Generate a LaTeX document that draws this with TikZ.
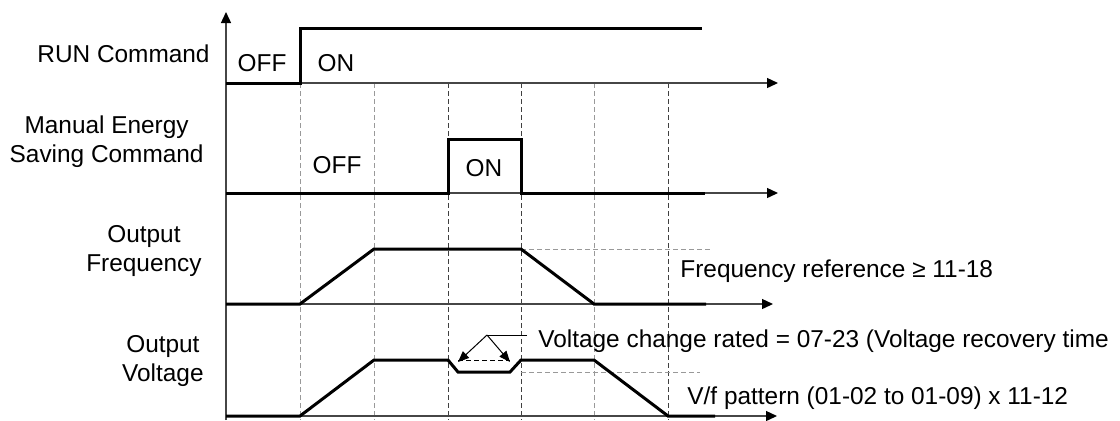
\documentclass[tikz,border=0pt]{standalone}
\usepackage{fontspec}
\setmainfont{Liberation Sans}
\usepackage{tikz}
\usetikzlibrary{arrows.meta,positioning}

\begin{document}
\begin{tikzpicture}[x=0.5pt, y=-0.5pt, every node/.style={font=\fontsize{12.2}{14.5}\selectfont}]
            \tikzstyle{signal}=[line width=1.5pt]
            \tikzstyle{axis}=[gray!55!black, line width=0.7pt, -{Triangle[color=black, length=5.5pt, width=5pt]}]
            \tikzstyle{grid}=[gray!80, line width=0.5pt, dash pattern=on 2.5pt off 1.5pt]
            \tikzstyle{darkgrid}=[black!75, line width=0.5pt, dash pattern=on 2.5pt off 1.5pt]
            \tikzstyle{callout}=[line width=0.5pt, -{Triangle[length=5.5pt, width=4.5pt]}]
            \tikzstyle{rowname}=[anchor=east, align=center, inner sep=0pt]
            \tikzstyle{level}=[inner sep=0pt]
            \useasboundingbox (0,0) rectangle (1120,420);
            \draw[grid] (300,83) -- (300,420);
            \draw[grid] (374,83) -- (374,420);
            \draw[darkgrid] (448,83) -- (448,420);
            \draw[darkgrid] (521,83) -- (521,420);
            \draw[grid] (594,83) -- (594,420);
            \draw[darkgrid] (668,83) -- (668,420);
            \draw[grid] (521,249) -- (713,249);
            \draw[grid] (521,372) -- (700,372);
            \draw[axis] (226,420) -- (226,12);
            \draw[axis] (226,83) -- (778,83);
            \draw[axis] (226,193) -- (778,193);
            \draw[axis] (226,304) -- (773,304);
            \draw[axis] (226,416) -- (777,416);
            \node[rowname] (run) at (210,54) {RUN Command};
            \node[rowname] (saving) at (204,142) {Manual Energy\\Saving Command};
            \node[rowname] (freq) at (202,251) {Output\\Frequency};
            \node[rowname] (volt) at (204,361) {Output\\Voltage};
            \node[level] (runoff) at (262,63) {OFF};
            \node[level] (runon) at (336,63) {ON};
            \node[level] (saveoff) at (337,165) {OFF};
            \node[level] (saveon) at (484,168) {ON};
            \draw[signal] (226,83) -- (300,83) -- (300,28) -- (702,28);
            \draw[signal] (226,193) -- (448,193) -- (448,139) -- (521,139) -- (521,193) -- (705,193);
            \draw[signal] (226,304) -- (300,304) -- (374,249) -- (521,249) -- (594,304) -- (706,304);
            \draw[signal] (226,416) -- (300,416) -- (374,360) -- (448,360) -- (458,372)
                -- (510,372) -- (521,360) -- (594,360) -- (668,416) -- (715,416);
            \draw[black, line width=0.5pt, dash pattern=on 2.5pt off 1.5pt] (458,360) -- (510,360);
            \node[level, anchor=base west] (freqref) at (680,277) {Frequency reference ≥ 11-18};
            \node[level, anchor=base west] (rated) at (538,347) {Voltage change rated = 07-23 (Voltage recovery time};
            \node[level, anchor=base west] (vf) at (687,404) {V/f pattern (01-02 to 01-09) x 11-12};
            \coordinate (tail) at (527,335);
            \coordinate (knee) at (487,335);
            \coordinate (dipL) at (458,362);
            \coordinate (dipR) at (510,362);
            \draw[line width=0.5pt] (tail) -- (knee);
            \draw[callout] (knee) -- (dipL);
            \draw[callout] (knee) -- (dipR);
        \end{tikzpicture}
\end{document}
